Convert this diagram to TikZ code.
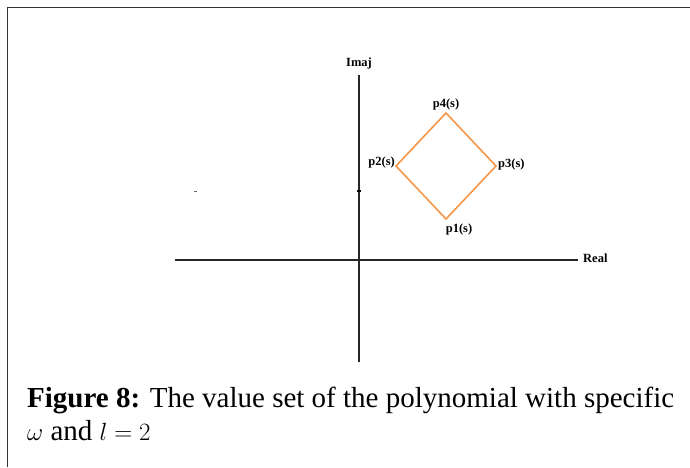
\documentclass[tikz,border=0pt]{standalone}
\usepackage{fontspec}
\setmainfont{Liberation Serif}
\usepackage{tikz}

\definecolor{setorange}{RGB}{247,150,70}

\begin{document}
\begin{tikzpicture}[x=1pt,y=-1pt,
  axis/.style={line width=2.2pt,black!85},
  lbl/.style={font=\fontsize{12.5}{14}\selectfont\bfseries,inner sep=1pt}]

\useasboundingbox (0,0) rectangle (690,467);

% Frame
\draw[line width=1.3pt,black!80] (7.5,467) -- (7.5,7.5) -- (690,7.5);

% Axes
\coordinate (xl) at (175,260);
\coordinate (xr) at (578,260);
\coordinate (yb) at (359,362);
\coordinate (yt) at (359,75);
\draw[axis] (xl) -- (xr);
\draw[axis] (yb) -- (yt);
\node[lbl,anchor=west] (real) at (582,258) {Real};
\node[lbl] (imaj) at (359,63) {Imaj};

% Small ticks
\draw[line width=1.5pt] (357,191) -- (361,191);
\draw[line width=0.6pt,black!60] (194,191) -- (197,191);

% Value set corners
\coordinate (p1) at (446,219);
\coordinate (p2) at (396,166);
\coordinate (p3) at (496,166);
\coordinate (p4) at (446,113);
\draw[setorange,line width=1.6pt,line join=miter] (p1) -- (p3) -- (p4) -- (p2) -- cycle;

\node[lbl,anchor=south] (l4) at (p4) [yshift=2pt] {p4(s)};
\node[lbl,anchor=north] (l1) at (p1) [xshift=13pt,yshift=-4pt] {p1(s)};
\node[lbl,anchor=east] (l2) at (p2) [yshift=4pt] {p2(s)};
\node[lbl,anchor=west] (l3) at (p3) [xshift=1pt,yshift=2pt] {p3(s)};

% Caption
\node[anchor=base west,inner sep=0pt,font=\fontsize{29}{33}\selectfont,align=left]
  (cap) at (27,440) {\textbf{Figure 8:} The value set of the polynomial with specific\\
  $\omega$ and $l=2$};

\end{tikzpicture}
\end{document}
